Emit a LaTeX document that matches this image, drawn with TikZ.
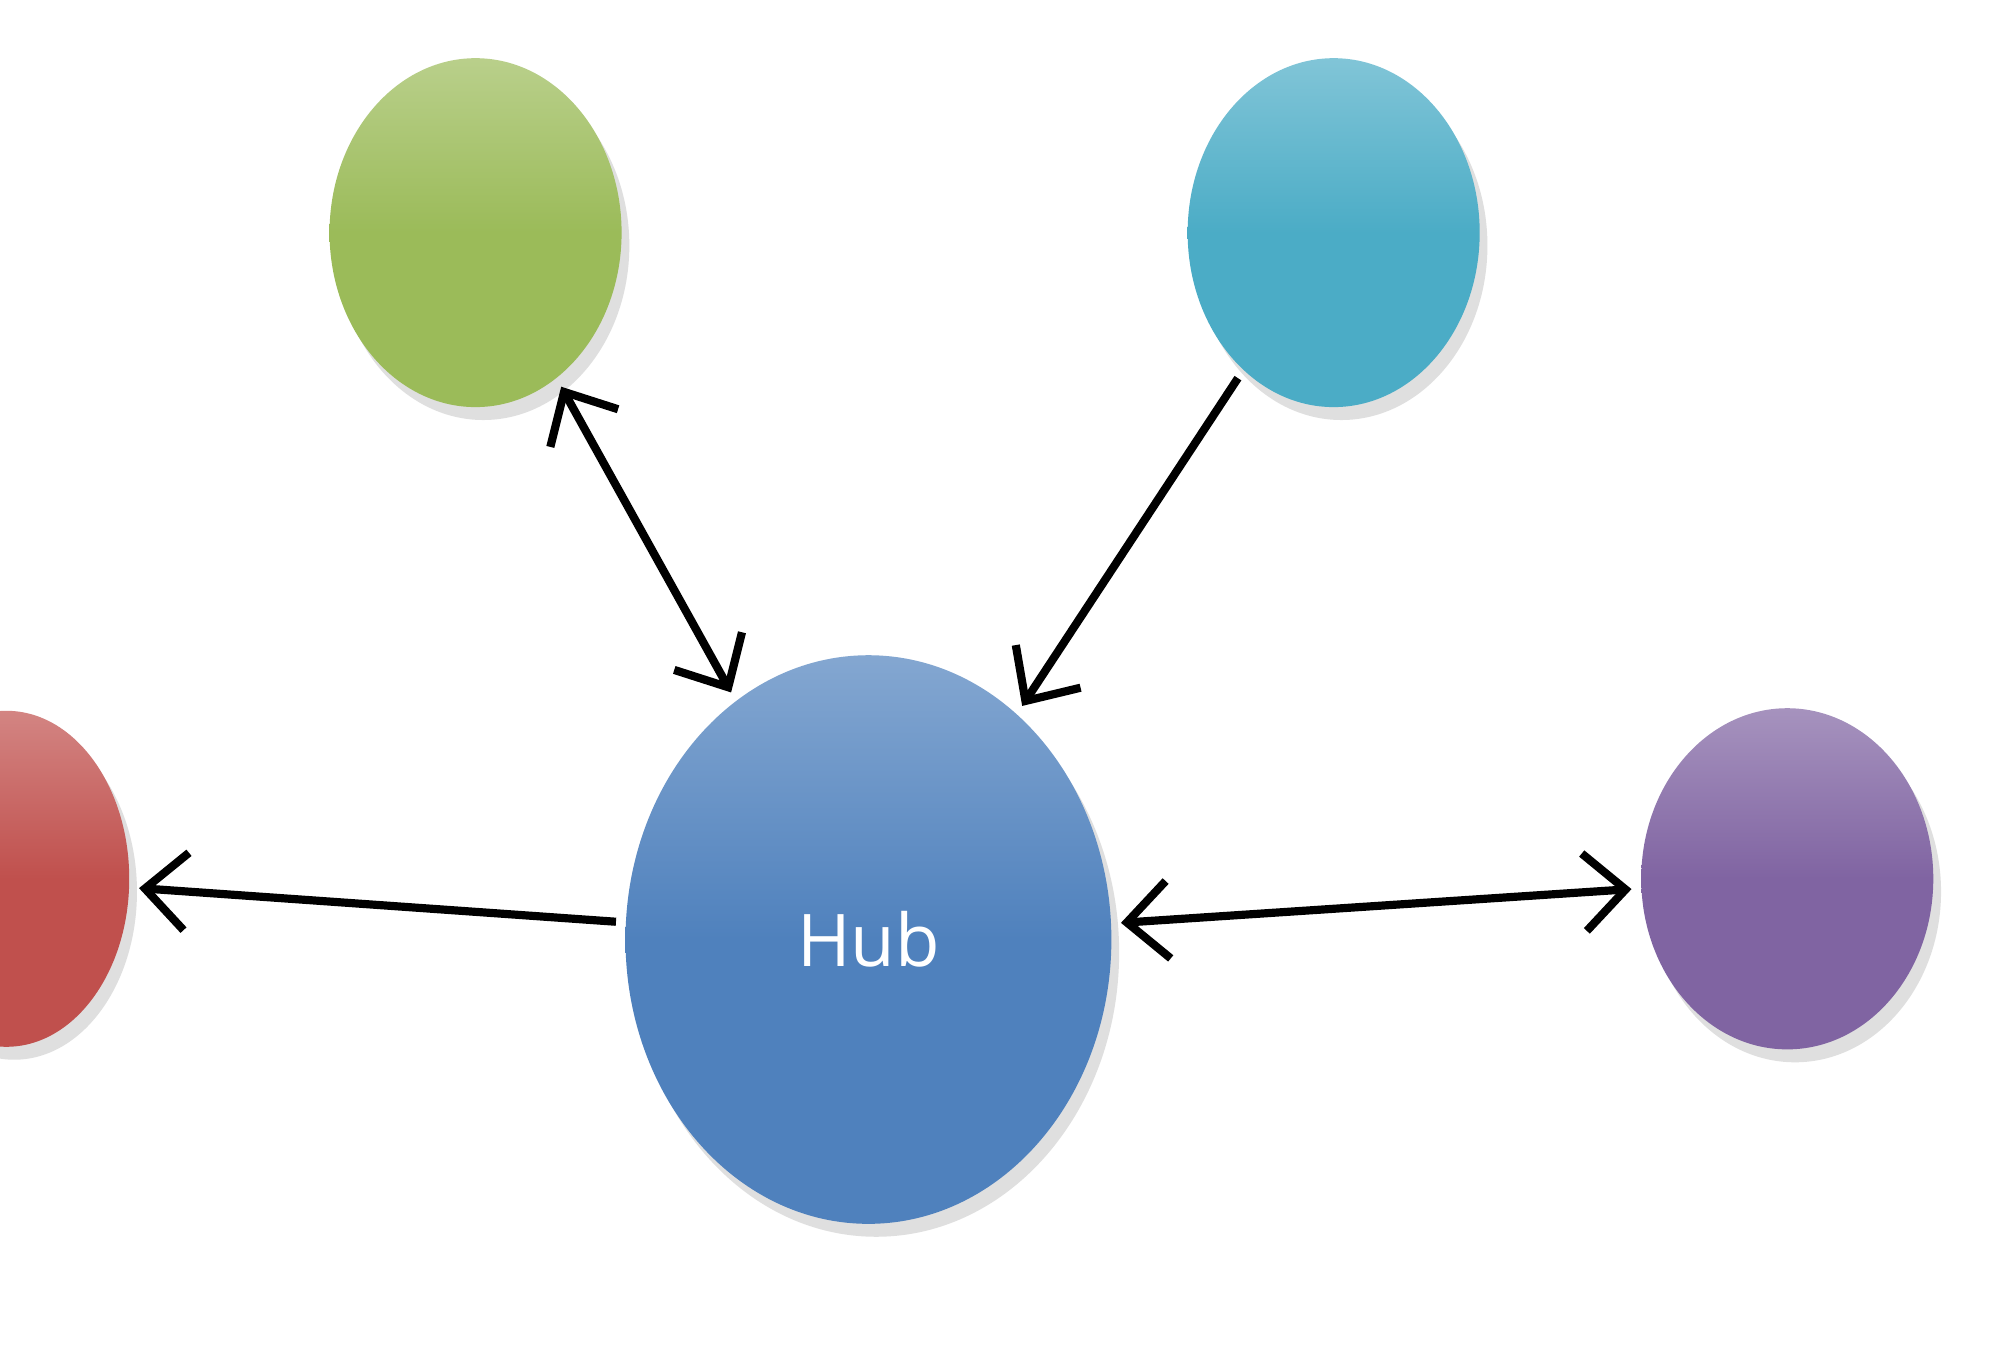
\documentclass[tikz,border=0pt]{standalone}
\usepackage{fontspec}
\setsansfont{Open Sans}
\usetikzlibrary{shapes.geometric,arrows.meta,shadows}
\definecolor{cgreen}{HTML}{9BBB59}
\definecolor{ccyan}{HTML}{4BACC6}
\definecolor{chub}{HTML}{4F81BD}
\definecolor{cred}{HTML}{C0504D}
\definecolor{cpurple}{HTML}{8064A2}
\tikzset{
  blob/.style={ellipse,inner sep=0pt,drop shadow={opacity=0.25,shadow xshift=0.6mm,shadow yshift=-1mm},top color=#1!70!white,bottom color=#1,middle color=#1},
  link/.style={line width=1.8pt,black,shorten <=2pt,shorten >=2pt},
  barbtip/.tip={Straight Barb[length=3.2mm,width=6mm,line width=1.8pt]}
}
\begin{document}
\begin{tikzpicture}[x=0.1mm,y=-0.1mm]
\useasboundingbox (0,0) rectangle (1560,1040);
\clip (0,0) rectangle (1560,1040);
\fill[white] (0,0) rectangle (1560,1040);
\node[blob=cgreen,minimum width=22.6mm,minimum height=27mm] (g) at (368,180) {};
\node[blob=ccyan,minimum width=22.6mm,minimum height=27mm] (c) at (1032,180) {};
\node[blob=chub,minimum width=37.6mm,minimum height=44mm,text=white,font=\sffamily\fontsize{16}{19}\selectfont] (h) at (672,727) {Hub};
\node[blob=cred,minimum width=19mm,minimum height=26mm] (r) at (5,680) {};
\node[blob=cpurple,minimum width=22.6mm,minimum height=26.4mm] (p) at (1383,680) {};
\draw[link,barbtip-barbtip] (g) -- (h);
\draw[link,-barbtip] (c) -- (h);
\draw[link,-barbtip] (h) -- (r);
\draw[link,barbtip-barbtip] (h) -- (p);
\end{tikzpicture}
\end{document}
